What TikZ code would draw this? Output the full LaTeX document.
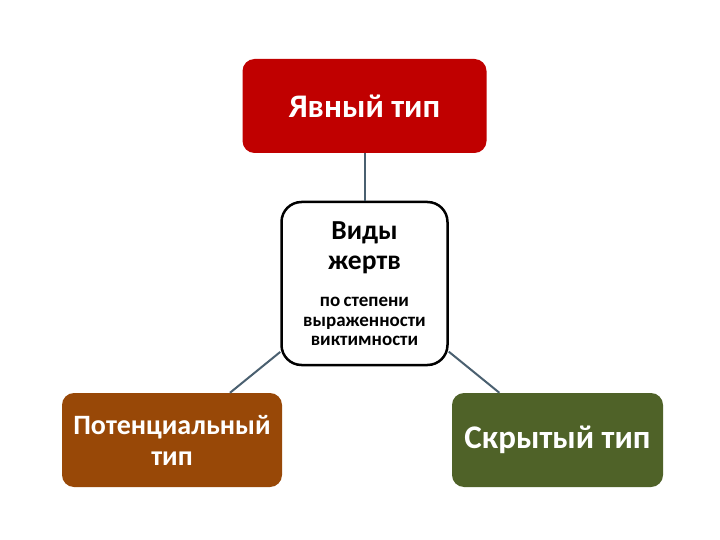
\documentclass[tikz,border=0pt]{standalone}
\usepackage{fontspec}
\setmainfont{Carlito}
\usetikzlibrary{positioning}
\definecolor{yavnyred}{RGB}{192,0,0}
\definecolor{potencbrown}{RGB}{152,72,7}
\definecolor{skrytygreen}{RGB}{79,98,40}
\definecolor{linkgray}{RGB}{74,96,112}
\tikzset{
	every node/.style={
		font=\bfseries
	},
	tip/.style={
		shape=rectangle,
		minimum height=94pt,
		inner sep=0pt,
		rounded corners=12pt,
		text=white,
		align=center,
		font=\bfseries\fontsize{33}{36}\selectfont
	},
	vidy/.style={
		shape=rectangle,
		minimum width=166pt,
		minimum height=163pt,
		inner sep=0pt,
		rounded corners=20pt,
		draw=black,
		line width=2.5pt,
		fill=white,
		text width=160pt,
		align=center
	},
	link/.style={
		draw=linkgray,
		line width=2pt
	}
}

\begin{document}
\begin{tikzpicture}[x=1pt,y=-1pt]
	\useasboundingbox (0,0) rectangle (720,540);
	\fill[white] (0,0) rectangle (720,540);

	\node[vidy] (center) at (364.5,283.5) {\vspace{3pt}{\fontsize{27.5}{27}\selectfont Виды\\жертв\par}\vspace{18pt}{\fontsize{19}{19.5}\selectfont по степени\\выраженности\\виктимности\par}};
	\node[tip, fill=yavnyred, minimum width=244pt] (yavny) at (364.5,106) {Явный тип};
	\node[tip, fill=potencbrown, minimum width=220pt, font=\bfseries\fontsize{28}{31}\selectfont] (potenc) at (172,440) {Потенциальный\\тип};
	\node[tip, fill=skrytygreen, minimum width=211pt] (skryty) at (557.5,440) {Скрытый тип};

	\path[link] (yavny) -- (center);
	\path[link] (center) -- (potenc);
	\path[link] (center) -- (skryty);
\end{tikzpicture}
\end{document}
